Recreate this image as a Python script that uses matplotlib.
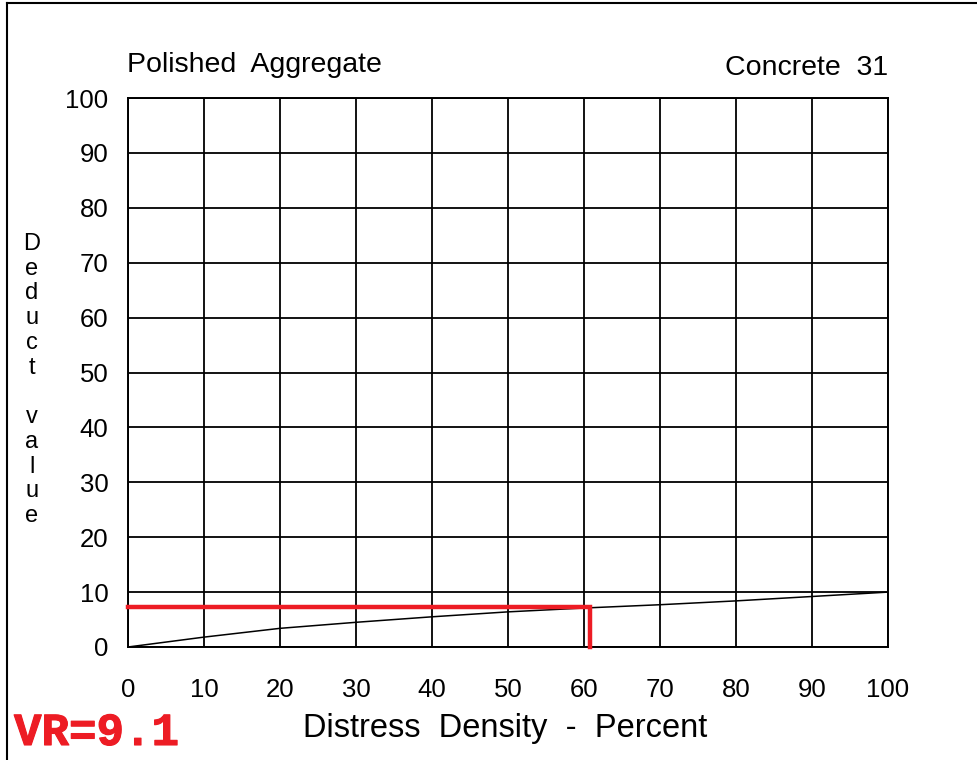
import matplotlib
matplotlib.use("Agg")
import matplotlib.pyplot as plt
from matplotlib.lines import Line2D
import matplotlib.patheffects as pe

# Data
density = [0, 10, 20, 30, 40, 50, 60, 70, 80, 90, 100]
deduct = [0, 1.8, 3.4, 4.5, 5.5, 6.4, 7.1, 7.7, 8.4, 9.2, 10.0]
x_ticks = [0, 10, 20, 30, 40, 50, 60, 70, 80, 90, 100]
y_ticks = [0, 10, 20, 30, 40, 50, 60, 70, 80, 90, 100]
vr_density = 60.8
vr_deduct = 7.3
vr_label = "VR=9.1"

RED = "#ED1C24"
plt.rcParams['font.family'] = ['Liberation Sans', 'DejaVu Sans']

W, H = 977, 760
fig = plt.figure(figsize=(W / 100, H / 100), dpi=100)
ax = fig.add_axes([128 / W, 1 - 647 / H, 760 / W, 549 / H])

ax.set_xlim(0, 100)
ax.set_ylim(0, 100)
ax.set_xticks(x_ticks)
ax.set_yticks(y_ticks)
ax.grid(True, color="black", linewidth=1.3)
ax.set_axisbelow(True)
for s in ax.spines.values():
    s.set_color("black")
    s.set_linewidth(1.4)
ax.tick_params(axis="both", length=0, labelsize=18.5)
ax.tick_params(axis="y", pad=14)
ax.tick_params(axis="x", pad=22)

ax.plot(density, deduct, color="black", linewidth=1.1, zorder=3)
ax.plot([0, vr_density, vr_density], [vr_deduct, vr_deduct, 0],
        color=RED, linewidth=3.2, solid_joinstyle="miter", zorder=4, clip_on=False)

fig.text(127 / W, 1 - 72 / H, "Polished  Aggregate", fontsize=20.5, ha="left", va="baseline")
fig.text(888 / W, 1 - 75 / H, "Concrete  31", fontsize=20.5, ha="right", va="baseline")
fig.text(505 / W, 1 - 737 / H, "Distress  Density  -  Percent", fontsize=23.5, ha="center", va="baseline")
fig.text(32 / W, 1 - 380 / H, "D\ne\nd\nu\nc\nt\n\nv\na\nl\nu\ne", fontsize=17,
         ha="center", va="center", linespacing=1.16)
fig.text(14 / W, 1 - 745 / H, vr_label, fontsize=33, fontweight="bold", color=RED,
         family=["Liberation Mono", "DejaVu Sans Mono"], ha="left", va="baseline",
         path_effects=[pe.withStroke(linewidth=0.8, foreground=RED)])

# figure border (top and left)
fig.add_artist(Line2D([7 / W, 7 / W], [0, 1 - 3 / H], color="black", linewidth=1.5))
fig.add_artist(Line2D([7 / W, 1], [1 - 3 / H, 1 - 3 / H], color="black", linewidth=1.5))

fig.savefig("out.png", dpi=100)
